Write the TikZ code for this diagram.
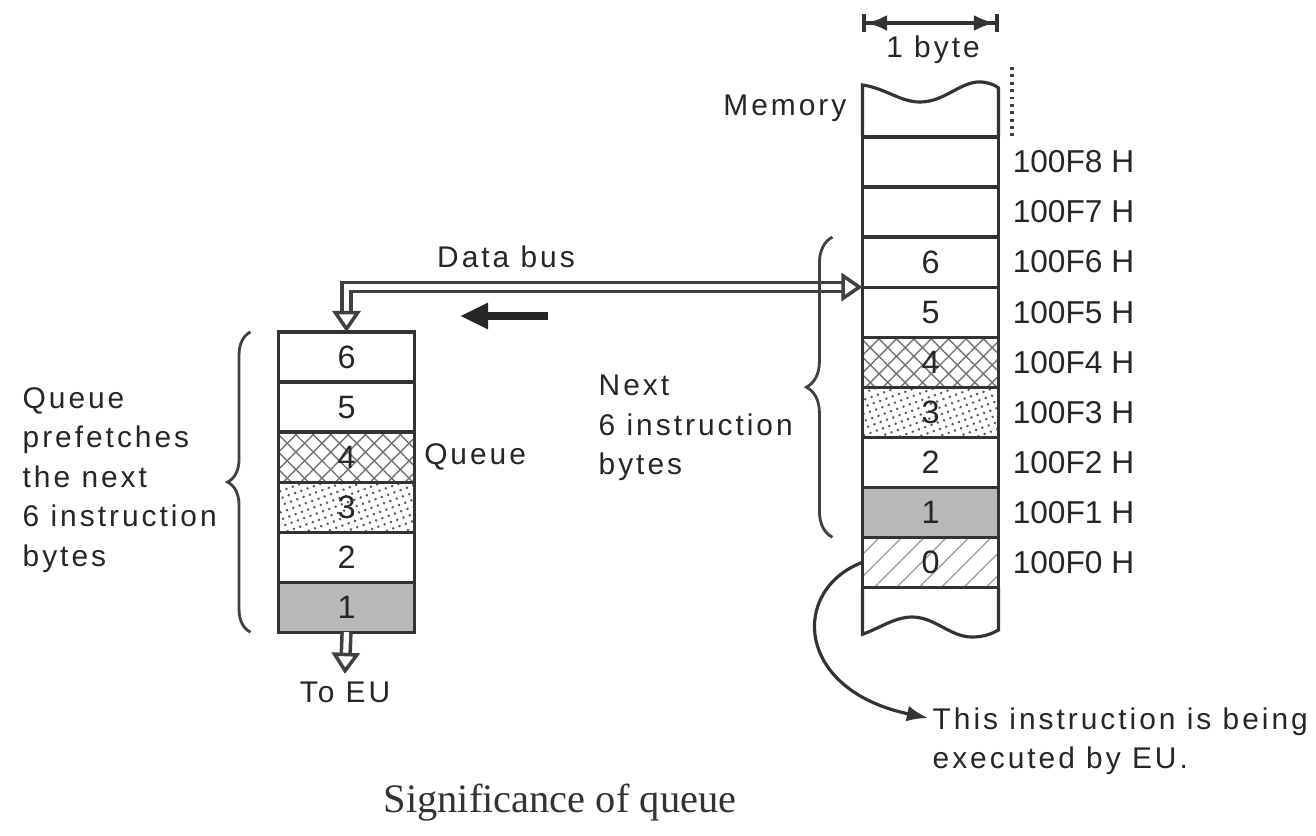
\documentclass[tikz,border=0pt]{standalone}
\usepackage{fontspec}
\setmainfont{Liberation Sans}
\newfontfamily\notefont[LetterSpace=10]{Liberation Sans}
\newfontfamily\capfont{Liberation Serif}
\usetikzlibrary{arrows.meta,positioning,patterns.meta,decorations.pathreplacing,calc}
\tikzset{
  byte/.style={draw=black!80,line width=0.9pt,minimum width=1.36cm,minimum height=0.5cm,
    inner sep=0pt,outer sep=0pt,font=\fontsize{9.2}{10}\selectfont,text=black!85},
  crossbyte/.style={byte,pattern={Hatch[angle=45,distance=3.5pt,line width=0.4pt]},pattern color=black!55},
  dotbyte/.style={byte,pattern={Dots[distance=1.9pt,radius=0.4pt,angle=20]},pattern color=black!65},
  greybyte/.style={byte,fill=black!28},
  linebyte/.style={byte,pattern={Lines[angle=45,distance=4.5pt,line width=0.35pt]},pattern color=black!40},
  wall/.style={draw=black!80,line width=0.9pt},
  note/.style={font=\notefont\fontsize{8.5}{11.2}\selectfont,text=black!85,align=left,inner sep=0pt},
  addr/.style={font=\fontsize{9}{10}\selectfont,text=black!85,inner sep=0pt},
  bus/.style={draw=black!75,line width=1pt,double=white,double distance=1.5pt,
    >={Triangle[open,length=6pt,width=8pt]}},
  fetch/.style={draw=black!85,line width=2.2pt,-{Triangle[length=8pt,width=7pt]}},
  span/.style={draw=black!80,line width=1pt,{Bar[width=5pt]Latex[length=6pt,width=4.5pt]}-{Latex[length=6pt,width=4.5pt]Bar[width=5pt]}},
  curly/.style={decorate,decoration={brace,amplitude=#1},draw=black!75,line width=0.8pt},
  pointer/.style={draw=black!80,line width=0.9pt,-{Latex[length=6pt,width=4.5pt]}}
}

\begin{document}
\begin{tikzpicture}[x=0.01cm,y=-0.01cm]
  \useasboundingbox (0,0) rectangle (1316,835);

  % queue
  \node[byte] (q6) at (346.5,357) {6};
  \node[byte,below=0pt of q6] (q5) {5};
  \node[crossbyte,below=0pt of q5] (q4) {4};
  \node[dotbyte,below=0pt of q4] (q3) {3};
  \node[byte,below=0pt of q3] (q2) {2};
  \node[greybyte,below=0pt of q2] (q1) {1};
  \node[note,right=0.09cm of q4] (qname) {Queue};
  \node[note,anchor=west] (qtext) at (22,480) {Queue\\prefetches\\the next\\6 instruction\\bytes};
  \node[note] (toeu) at (345,692) {To EU};

  % memory
  \node[byte] (m8) at (930.5,162) {};
  \node[byte,below=0pt of m8] (m7) {};
  \node[byte,below=0pt of m7] (m6) {6};
  \node[byte,below=0pt of m6] (m5) {5};
  \node[crossbyte,below=0pt of m5] (m4) {4};
  \node[dotbyte,below=0pt of m4] (m3) {3};
  \node[byte,below=0pt of m3] (m2) {2};
  \node[greybyte,below=0pt of m2] (m1) {1};
  \node[linebyte,below=0pt of m1] (m0) {0};
  \draw[wall] (m8.north west) -- ++(0,-52) .. controls (885,88) and (900,102) .. (920,102)
    .. controls (945,102) and (962,80) .. (982,82) .. controls (990,83) and (995,85) .. (998.5,88)
    -- (m8.north east);
  \draw[wall] (m0.south west) -- ++(0,47) .. controls (880,628) and (895,617) .. (912,617)
    .. controls (935,617) and (950,637) .. (972,637) .. controls (985,637) and (993,633) .. (998.5,630)
    -- (m0.south east);

  \node[addr,right=0.135cm of m8] (a8) {100F8 H};
  \node[addr,right=0.135cm of m7] (a7) {100F7 H};
  \node[addr,right=0.135cm of m6] (a6) {100F6 H};
  \node[addr,right=0.135cm of m5] (a5) {100F5 H};
  \node[addr,right=0.135cm of m4] (a4) {100F4 H};
  \node[addr,right=0.135cm of m3] (a3) {100F3 H};
  \node[addr,right=0.135cm of m2] (a2) {100F2 H};
  \node[addr,right=0.135cm of m1] (a1) {100F1 H};
  \node[addr,right=0.135cm of m0] (a0) {100F0 H};

  \node[note,anchor=east] (memname) at (847,108) {Memory};
  \node[note] (bytew) at (933,50) {1 byte};
  \coordinate (bytey) at (0,23);
  \draw[span] (m8.north west |- bytey) -- (m8.north east |- bytey);
  \draw[line width=1pt,draw=black!75,dash pattern=on 0.8pt off 1.3pt] (1012,67) -- (1012,140);

  \node[note,anchor=west] (next) at (598,428) {Next\\6 instruction\\bytes};
  \node[note,anchor=north west] (exec) at (932,707) {This instruction is being\\executed by EU.};

  % buses and arrows
  \node[note] (busname) at (506,257) {Data bus};
  \draw[bus,<->] (q6.north) |- (m6.south west);
  \draw[bus,->] (q1.south) -- ([yshift=2pt]toeu.north);
  \coordinate (fa) at (548,316);
  \coordinate (fb) at (460,316);
  \draw[fetch] (fa) -- (fb);
  \draw[pointer] (m0.west) .. controls (790,590) and (795,690) .. ($(exec.north west)+(-4,11)$);

  \draw[curly=6.5pt] ([xshift=-0.28cm]q1.south west) -- ([xshift=-0.28cm]q6.north west);
  \draw[curly=7.4pt] ([xshift=-0.30cm]m1.south west) -- ([xshift=-0.30cm]m6.north west);

  \node[font=\capfont\fontsize{11.5}{13}\selectfont,text=black!80] (caption) at (560,803) {Significance of queue};
\end{tikzpicture}
\end{document}
